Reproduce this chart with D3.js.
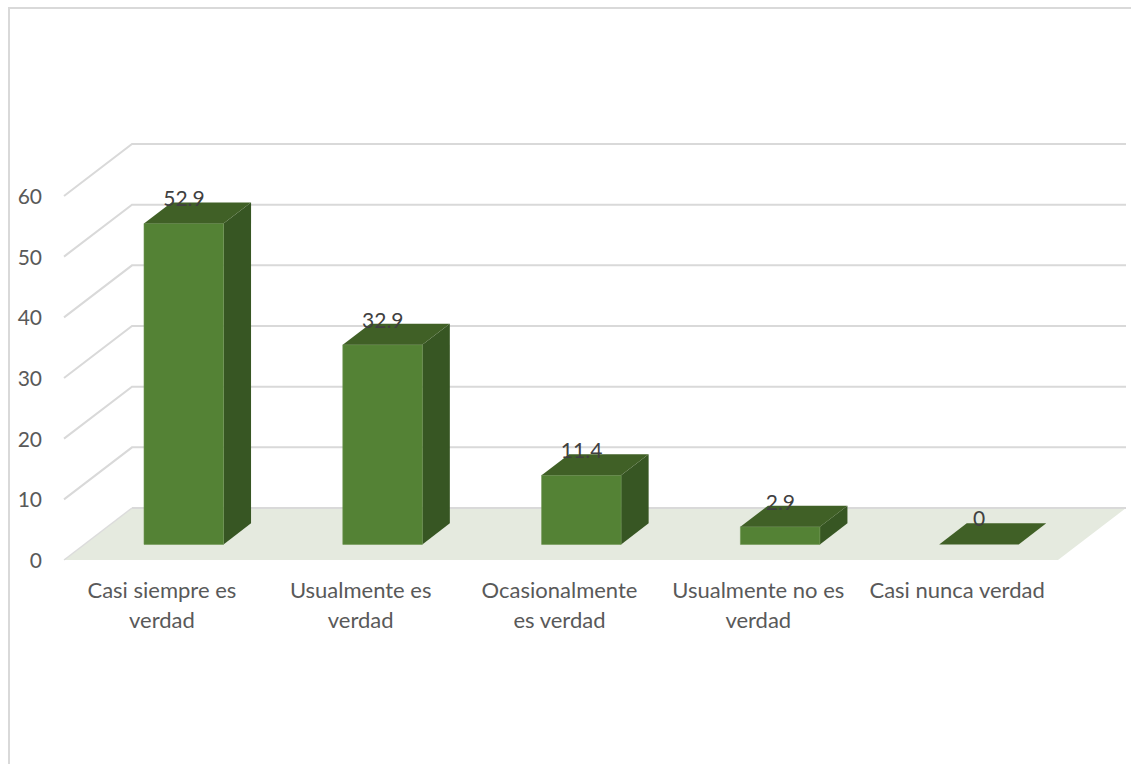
<!DOCTYPE html>
<html><head><meta charset="utf-8">
<script src="https://cdnjs.cloudflare.com/ajax/libs/d3/7.8.5/d3.min.js"></script>
<style>html,body{margin:0;padding:0;background:#fff;overflow:hidden}text{font-family:Lato,"Open Sans",sans-serif}</style>
</head><body><svg id="c" width="1131" height="764"></svg>
<script>
const categories=[["Casi siempre es","verdad"],["Usualmente es","verdad"],["Ocasionalmente","es verdad"],["Usualmente no es","verdad"],["Casi nunca verdad"]];
const values=[52.9,32.9,11.4,2.9,0];
const valueLabels=["52.9","32.9","11.4","2.9","0"];
const ticks=[0,10,20,30,40,50,60];

const svg=d3.select("#c");
const x=d3.scaleBand().domain(d3.range(values.length)).range([64,1058]);
const y=d3.scaleLinear().domain([0,60]).range([560,196]);
const depth=d3.scaleLinear().domain([0,1]).range([0,68]);
const rise=d3.scaleLinear().domain([0,1]).range([0,-52]);
const P=(px,v,d)=>[px+depth(d),y(v)+rise(d)];
const poly=pts=>"M"+pts.map(p=>p.join(",")).join("L")+"Z";

svg.append("rect").attr("x",9).attr("y",8).attr("width",1140).attr("height",790).attr("fill","#fff").attr("stroke","#d9d9d9").attr("stroke-width",2);

svg.append("path").attr("d",poly([P(64,0,0),P(1058,0,0),P(1058,0,1),P(64,0,1)])).attr("fill","#e5eadf");

ticks.forEach(t=>{
  svg.append("path").attr("fill","none").attr("stroke","#d9d9d9").attr("stroke-width",2)
    .attr("d",d3.line()(t===0?[P(64,t,1),P(1058,t,1)]:[P(64,t,0),P(64,t,1),P(1058,t,1)]));
  svg.append("text").attr("x",42).attr("y",y(t)+8).attr("text-anchor","end").attr("font-size",21).attr("fill","#595959").text(t);
});
svg.append("path").attr("fill","none").attr("stroke","#dcdcdc").attr("stroke-width",1.5).attr("d",d3.line()([P(64,0,0),P(64,0,1)]));

const d0=0.3,d1=0.705;
values.forEach((v,i)=>{
  const cx=x(i)+x.bandwidth()/2, L=cx-40+20.6, R=L+79.5;
  const at=(px,val,d)=>[px+depth(d-d0),y(val)+rise(d)];
  if(v>0){
    svg.append("path").attr("d",poly([at(R,0,d0),at(R,0,d1),at(R,v,d1),at(R,v,d0)])).attr("fill","#375623");
    svg.append("path").attr("d",poly([at(L,0,d0),at(R,0,d0),at(R,v,d0),at(L,v,d0)])).attr("fill","#548235").attr("stroke","#6b9350").attr("stroke-width",.6);
  }
  svg.append("path").attr("d",poly([at(L,v,d0),at(R,v,d0),at(R,v,d1),at(L,v,d1)])).attr("fill","#406026");
  const top=at(L,v,d1)[1];
  svg.append("text").attr("x",L+40).attr("y",top+(v>0?4:3)).attr("text-anchor","middle").attr("font-size",21).attr("fill","#404040").text(valueLabels[i]);
  categories[i].forEach((ln,k)=>svg.append("text").attr("x",cx-1.5).attr("y",598+k*29.5).attr("text-anchor","middle").attr("font-size",22).attr("fill","#595959").text(ln));
});
</script></body></html>
